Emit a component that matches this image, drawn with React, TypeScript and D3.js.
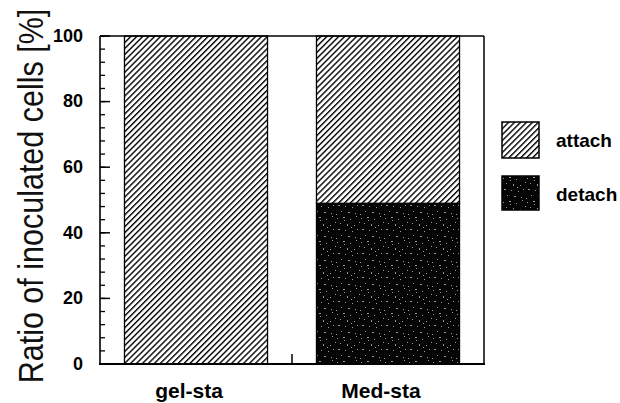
import React from "react";
import * as d3 from "d3";

const categories = ["gel-sta", "Med-sta"];
const detachValues = [0, 49];
const attachValues = [100, 51];
const seriesNames = ["attach", "detach"];
const yTickValues = [0, 20, 40, 60, 80, 100];
const yMinorValues = d3.range(0, 101, 4);

const W = 620;
const H = 403;
const M = { left: 100, right: 484, top: 36, bottom: 364 };

// deterministic speckle positions for the dark texture tile (style only)
const speckles: [number, number, number, number][] = [
  [1, 2, 1, 1], [7, 1, 2, 1], [14, 3, 1, 1], [20, 0, 1, 1], [4, 7, 1, 1],
  [11, 8, 1, 2], [18, 9, 1, 1], [23, 6, 1, 1], [2, 13, 2, 1], [9, 14, 1, 1],
  [16, 15, 1, 1], [21, 13, 1, 1], [5, 19, 1, 1], [12, 20, 2, 1], [19, 21, 1, 1],
  [0, 22, 1, 1], [15, 11, 1, 1], [8, 4, 1, 1],
];

export default function App() {
  const x = d3
    .scaleBand<string>()
    .domain(categories)
    .range([M.left, M.right])
    .paddingInner(0.255)
    .paddingOuter(0.1275);
  const y = d3.scaleLinear().domain([0, 100]).range([M.bottom, M.top]);

  const rows = categories.map((c, i) => ({ cat: c, detach: detachValues[i], attach: attachValues[i] }));
  const stack = d3.stack<any>().keys(["detach", "attach"])(rows);

  const fillFor = (key: string) => (key === "attach" ? "url(#hatch)" : "url(#speckle)");
  const sepTicks = categories.slice(1).map((c) => (x(c) as number) - (x.step() * x.paddingInner()) / 2);

  return (
    <svg width={W} height={H} style={{ position: "absolute", left: 0, top: 0, background: "#fff" }}>
      <defs>
        <pattern id="hatch" patternUnits="userSpaceOnUse" width={4.2} height={4.2} patternTransform="rotate(45)">
          <rect width={4.2} height={4.2} fill="#fff" />
          <line x1={0} y1={0} x2={0} y2={4.2} stroke="#000" strokeWidth={2.8} />
        </pattern>
        <pattern id="speckle" patternUnits="userSpaceOnUse" width={24} height={24}>
          <rect width={24} height={24} fill="#050505" />
          {speckles.map(([sx, sy, sw, sh], i) => (
            <rect key={i} x={sx} y={sy} width={sw} height={sh} fill="#9a9a9a" />
          ))}
        </pattern>
      </defs>

      {/* bars */}
      {stack.map((layer) =>
        layer.map((d, i) => {
          const h = y(d[0]) - y(d[1]);
          if (h <= 0) return null;
          return (
            <rect
              key={layer.key + i}
              x={x(categories[i])}
              y={y(d[1])}
              width={x.bandwidth()}
              height={h}
              fill={fillFor(layer.key)}
              stroke="#000"
              strokeWidth={1.3}
            />
          );
        })
      )}

      {/* frame */}
      <line x1={M.left} x2={M.right} y1={M.top} y2={M.top} stroke="#000" strokeWidth={1.5} />
      <line x1={M.right} x2={M.right} y1={M.top} y2={M.bottom} stroke="#000" strokeWidth={1.5} />
      <line x1={M.left} x2={M.left} y1={M.top} y2={M.bottom} stroke="#000" strokeWidth={1.6} />
      <line x1={M.left - 1} x2={M.right + 1} y1={M.bottom} y2={M.bottom} stroke="#000" strokeWidth={2} />

      {/* y ticks (inward) */}
      {yMinorValues.map((v) => (
        <line key={"m" + v} x1={M.left} x2={M.left + 5} y1={y(v)} y2={y(v)} stroke="#000" strokeWidth={1.3} />
      ))}
      {yTickValues.map((v) => (
        <g key={"t" + v}>
          <line x1={M.left} x2={M.left + 10} y1={y(v)} y2={y(v)} stroke="#000" strokeWidth={1.5} />
          <text
            x={83}
            y={y(v) + 1}
            textAnchor="end"
            dominantBaseline="middle"
            fontFamily="Liberation Sans, Arial, sans-serif"
            fontWeight="bold"
            fontSize={18}
          >
            {v}
          </text>
        </g>
      ))}

      {/* x separator ticks */}
      {sepTicks.map((sx, i) => (
        <line key={"s" + i} x1={sx} x2={sx} y1={M.bottom} y2={M.bottom - 10} stroke="#000" strokeWidth={1.5} />
      ))}

      {/* category labels */}
      {categories.map((c) => (
        <text
          key={c}
          x={(x(c) as number) + x.bandwidth() / 2 - 7}
          y={398}
          textAnchor="middle"
          fontFamily="Liberation Sans, Arial, sans-serif"
          fontWeight="bold"
          fontSize={21}
        >
          {c}
        </text>
      ))}

      {/* y label */}
      <text
        transform="translate(43,196) rotate(-90) scale(1,1.17)"
        textAnchor="middle"
        fontFamily="Liberation Sans, Arial, sans-serif"
        fontSize={30.5}
        fill="#111"
      >
        Ratio of inoculated cells [%]
      </text>

      {/* legend */}
      {seriesNames.map((s, i) => (
        <g key={s} transform={`translate(502,${122 + i * 54})`}>
          <rect width={37} height={i === 0 ? 36 : 34} fill={fillFor(s)} stroke="#000" strokeWidth={1.5} />
          <text
            x={54}
            y={25}
            fontFamily="Liberation Sans, Arial, sans-serif"
            fontWeight="bold"
            fontSize={19}
          >
            {s}
          </text>
        </g>
      ))}
    </svg>
  );
}
